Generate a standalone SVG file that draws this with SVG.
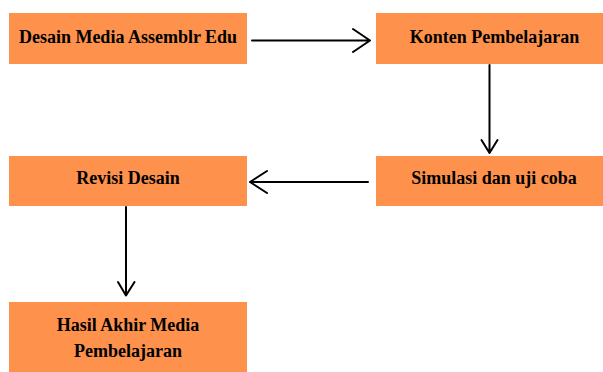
<svg xmlns="http://www.w3.org/2000/svg" width="603" height="372" viewBox="0 0 603 372">
<style>
.box{fill:#FE914C;}
.lbl{font-family:"Liberation Serif","Times New Roman",serif;font-weight:bold;font-size:18px;fill:#000;text-anchor:middle;}
.ln{fill:none;stroke:#000;stroke-width:2;stroke-linecap:round;stroke-linejoin:round;}
</style>
<rect width="603" height="372" fill="#fff"/>
<g id="desain">
<rect class="box" x="9" y="13" width="238" height="51"/>
<text class="lbl" x="128" y="42.5">Desain Media Assemblr Edu</text>
</g>
<g id="konten">
<rect class="box" x="376" y="13" width="227" height="51"/>
<text class="lbl" x="494.5" y="42.5">Konten Pembelajaran</text>
</g>
<g id="simulasi">
<rect class="box" x="376" y="156" width="227" height="50"/>
<text class="lbl" x="494" y="184">Simulasi dan uji coba</text>
</g>
<g id="revisi">
<rect class="box" x="9" y="156" width="238" height="50"/>
<text class="lbl" x="128" y="184">Revisi Desain</text>
</g>
<g id="hasil">
<rect class="box" x="9" y="302" width="238" height="70"/>
<text class="lbl" x="128" y="330.5">Hasil Akhir Media</text>
<text class="lbl" x="128" y="356.5">Pembelajaran</text>
</g>
<g id="connectors">
<path class="ln" d="M252 40.5H370M353 29L370 40.5L353 52"/>
<path class="ln" d="M489.5 65V153M481.5 140L489.5 153L497.5 140"/>
<path class="ln" d="M368 182H250M267 171L250 182L267 193"/>
<path class="ln" d="M126 207V295.5M118 282L126 295.5L134.5 282"/>
</g>
</svg>
